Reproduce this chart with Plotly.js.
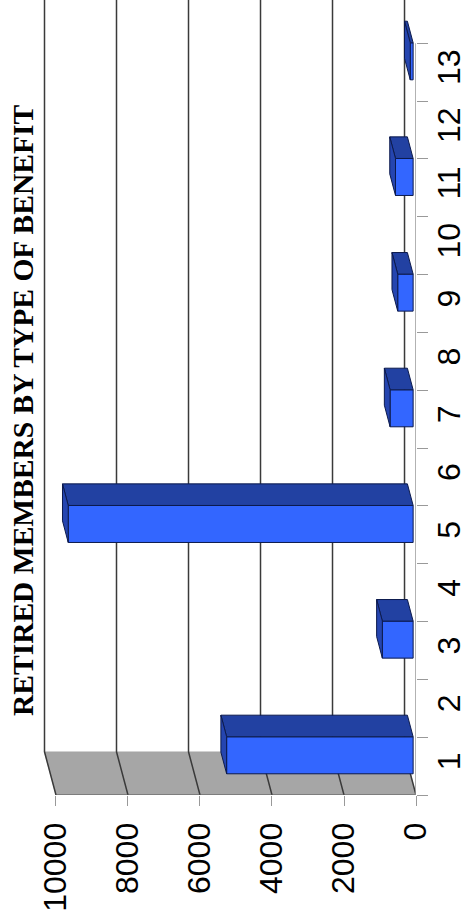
<!DOCTYPE html>
<html>
<head>
<meta charset="utf-8">
<script src="https://cdn.plot.ly/plotly-3.0.1.min.js"></script>
<style>html,body{margin:0;padding:0;background:#fff;}#chart{width:467px;height:920px;}</style>
</head>
<body>
<div id="chart"></div>
<script>
// ---- data ----
var categories = ['1','2','3','4','5','6','7','8','9','10','11','12','13'];
var values = [5180, 0, 855, 0, 9580, 0, 640, 0, 428, 0, 490, 0, 80];
var valueTicks = [0, 2000, 4000, 6000, 8000, 10000];
var valueTickText = ['0', '2000', '4000', '6000', '8000', '10000'];
var chartTitle = 'RETIRED MEMBERS BY TYPE OF BENEFIT';

// ---- 3D look (depth vector in data units) ----
var DV = 319;      // depth shift along value axis
var DU = 0.747;    // depth shift along category axis
var A = 0.25, B = 0.75; // bar front/back depth fractions
var W = 0.64;      // bar width (category units)
var vMax = valueTicks[valueTicks.length - 1];
var nCat = categories.length;
var yTop = nCat + DU;

var traces = [];

// floor (grey wall along value axis)
traces.push({
  type: 'scatter', mode: 'lines', xaxis: 'x', yaxis: 'y',
  x: [0, vMax, vMax + DV, DV, 0], y: [0, 0, DU, DU, 0],
  fill: 'toself', fillcolor: '#a6a6a6', line: {color: '#a6a6a6', width: 0.5},
  hoverinfo: 'skip', showlegend: false
});
// gridlines: back wall + floor diagonals
valueTicks.forEach(function (v) {
  traces.push({
    type: 'scatter', mode: 'lines', xaxis: 'x', yaxis: 'y',
    x: [v + DV, v + DV, v], y: [yTop, DU, 0],
    line: {color: '#3a3a3a', width: 1.5}, hoverinfo: 'skip', showlegend: false
  });
});
// floor front edge
traces.push({
  type: 'scatter', mode: 'lines', xaxis: 'x', yaxis: 'y',
  x: [0, vMax], y: [0, 0], line: {color: '#555', width: 1.2},
  hoverinfo: 'skip', showlegend: false
});
// front category axis line
traces.push({
  type: 'scatter', mode: 'lines', xaxis: 'x', yaxis: 'y',
  x: [0, 0], y: [0, nCat], line: {color: '#999', width: 1.5},
  hoverinfo: 'skip', showlegend: false
});

// bar front faces (zero values draw nothing)
var barY = [], barX = [], barBase = [];
categories.forEach(function (c, i) {
  barY.push(i + 0.5 + A * DU);
  barX.push(values[i] ? values[i] : null);
  barBase.push(A * DV);
});
traces.push({
  type: 'bar', orientation: 'h', xaxis: 'x', yaxis: 'y2',
  y: barY, x: barX, base: barBase, width: W,
  marker: {color: '#3366ff', line: {color: '#0c1a4d', width: 1}},
  hoverinfo: 'skip', showlegend: false
});

// bar top and end faces
categories.forEach(function (c, i) {
  var v = values[i];
  if (!v) return;
  var uc = i + 0.5;
  var uLo = uc - W / 2, uHi = uc + W / 2;
  // top face
  traces.push({
    type: 'scatter', mode: 'lines', xaxis: 'x', yaxis: 'y2',
    x: [A * DV, v + A * DV, v + B * DV, B * DV, A * DV],
    y: [uHi + A * DU, uHi + A * DU, uHi + B * DU, uHi + B * DU, uHi + A * DU],
    fill: 'toself', fillcolor: '#2241a2', line: {color: '#0c1a4d', width: 1},
    hoverinfo: 'skip', showlegend: false
  });
  // end face
  traces.push({
    type: 'scatter', mode: 'lines', xaxis: 'x', yaxis: 'y2',
    x: [v + A * DV, v + A * DV, v + B * DV, v + B * DV, v + A * DV],
    y: [uLo + A * DU, uHi + A * DU, uHi + B * DU, uLo + B * DU, uLo + A * DU],
    fill: 'toself', fillcolor: '#2545b0', line: {color: '#0c1a4d', width: 1},
    hoverinfo: 'skip', showlegend: false
  });
});

var centers = categories.map(function (c, i) { return i + 0.5; });
var bounds = [];
for (var k = 0; k <= nCat; k++) bounds.push(k);

var tickFont = {family: 'Liberation Sans, Arial, sans-serif', size: 32, color: '#000'};

var layout = {
  width: 467, height: 920,
  margin: {l: 40, r: 51, t: 0, b: 125, pad: 0},
  paper_bgcolor: '#fff', plot_bgcolor: '#fff',
  showlegend: false,
  xaxis: {
    range: [10444, 0], tickmode: 'array', tickvals: valueTicks, ticktext: valueTickText,
    ticks: 'outside', ticklen: 10, tickcolor: '#999', tickwidth: 1,
    tickangle: -90, tickfont: tickFont, ticklabelstandoff: 4,
    showgrid: false, zeroline: false, showline: false
  },
  yaxis: {
    range: [0, yTop], side: 'right', tickmode: 'array', tickvals: bounds,
    ticks: 'outside', ticklen: 11, tickcolor: '#999', tickwidth: 1,
    showticklabels: false, showgrid: false, zeroline: false, showline: false
  },
  yaxis2: {
    range: [0, yTop], side: 'right', overlaying: 'y', tickmode: 'array',
    tickvals: centers, ticktext: categories, ticks: '',
    tickangle: -90, tickfont: tickFont, ticklabelstandoff: 11,
    showgrid: false, zeroline: false, showline: false
  },
  annotations: [{
    text: chartTitle, textangle: -90,
    xref: 'paper', yref: 'paper', x: (23 - 40) / 376, y: (795 - 411) / 795,
    xanchor: 'center', yanchor: 'middle', showarrow: false,
    font: {family: 'Liberation Serif, Times New Roman, serif', size: 29.5, color: '#000', weight: 'bold'}
  }]
};

Plotly.newPlot('chart', traces, layout, {staticPlot: true, displayModeBar: false});
</script>
</body>
</html>
